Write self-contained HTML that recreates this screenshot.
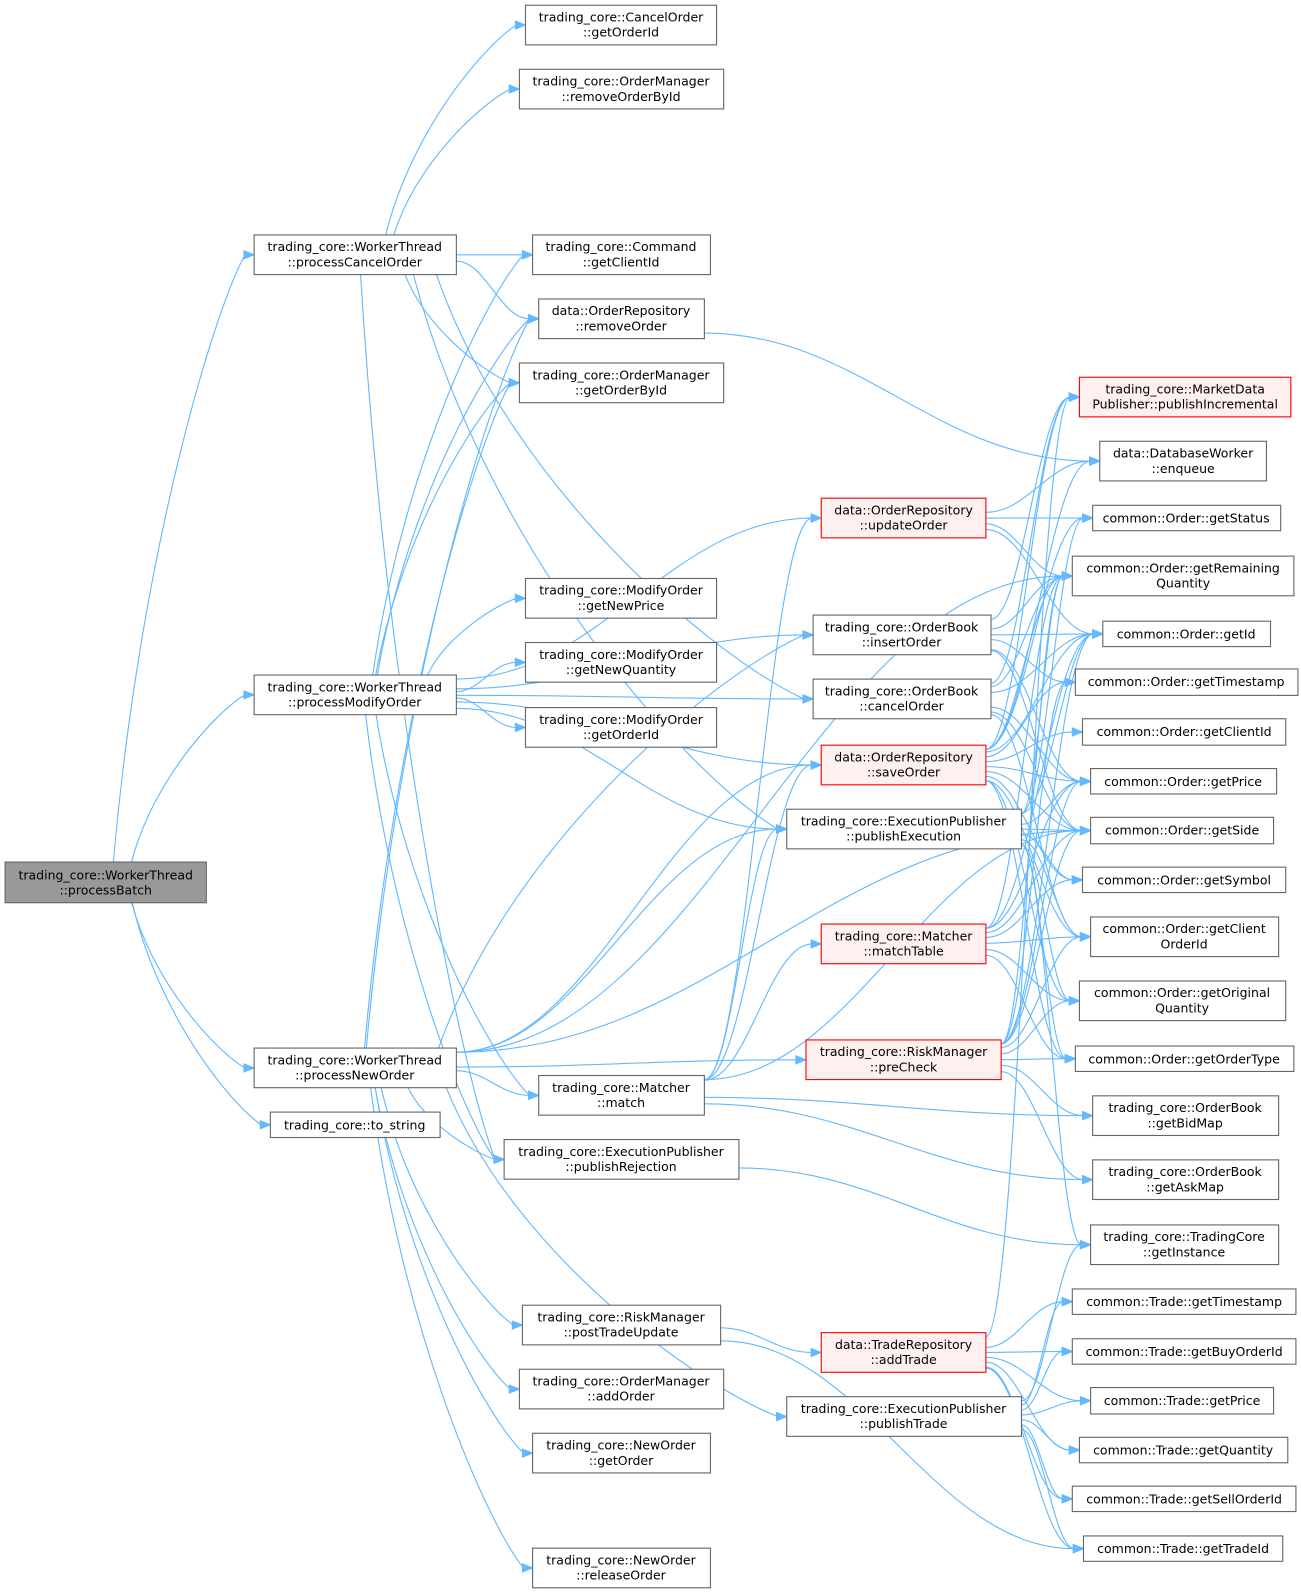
<!DOCTYPE html>
<html><head><meta charset="utf-8"><style>
html,body{margin:0;padding:0;background:#fff;}
svg{display:block;}
text{font-family:"DejaVu Sans","Liberation Sans",sans-serif;font-size:12.3px;fill:#000;text-anchor:middle;}
</style></head><body>
<svg id="g" width="1301" height="1592" viewBox="0 0 1280 1566" xmlns="http://www.w3.org/2000/svg">
<g id="edges" fill="none" stroke="#63b8ff" stroke-width="1.1"></g>
<g id="arrows" fill="#63b8ff" stroke="#63b8ff"></g>
<g id="nodes" stroke-width="1.1">
<rect x="5" y="848" width="198" height="40" fill="#999" stroke="#666"/><text x="104" y="865">trading_core::WorkerThread</text><text x="104" y="880">::processBatch</text>
<rect x="250" y="231" width="199" height="39" fill="#fff" stroke="#666"/><text x="349" y="247">trading_core::WorkerThread</text><text x="349" y="262">::processCancelOrder</text>
<rect x="250" y="664" width="199" height="39" fill="#fff" stroke="#666"/><text x="349" y="680">trading_core::WorkerThread</text><text x="349" y="695">::processModifyOrder</text>
<rect x="250" y="1031" width="199" height="39" fill="#fff" stroke="#666"/><text x="349" y="1047">trading_core::WorkerThread</text><text x="349" y="1062">::processNewOrder</text>
<rect x="266" y="1094" width="167" height="25" fill="#fff" stroke="#666"/><text x="349" y="1111">trading_core::to_string</text>
<rect x="517" y="5" width="188" height="39" fill="#fff" stroke="#666"/><text x="611" y="21">trading_core::CancelOrder</text><text x="611" y="36">::getOrderId</text>
<rect x="511" y="68" width="201" height="39" fill="#fff" stroke="#666"/><text x="611" y="84">trading_core::OrderManager</text><text x="611" y="99">::removeOrderById</text>
<rect x="524" y="231" width="175" height="39" fill="#fff" stroke="#666"/><text x="611" y="247">trading_core::Command</text><text x="611" y="262">::getClientId</text>
<rect x="530" y="294" width="163" height="39" fill="#fff" stroke="#666"/><text x="611" y="310">data::OrderRepository</text><text x="611" y="325">::removeOrder</text>
<rect x="511" y="357" width="201" height="39" fill="#fff" stroke="#666"/><text x="611" y="373">trading_core::OrderManager</text><text x="611" y="388">::getOrderById</text>
<rect x="517" y="569" width="188" height="39" fill="#fff" stroke="#666"/><text x="611" y="585">trading_core::ModifyOrder</text><text x="611" y="600">::getNewPrice</text>
<rect x="517" y="632" width="188" height="39" fill="#fff" stroke="#666"/><text x="611" y="648">trading_core::ModifyOrder</text><text x="611" y="663">::getNewQuantity</text>
<rect x="517" y="696" width="188" height="39" fill="#fff" stroke="#666"/><text x="611" y="712">trading_core::ModifyOrder</text><text x="611" y="727">::getOrderId</text>
<rect x="530" y="1058" width="163" height="39" fill="#fff" stroke="#666"/><text x="611" y="1074">trading_core::Matcher</text><text x="611" y="1089">::match</text>
<rect x="496" y="1121" width="231" height="39" fill="#fff" stroke="#666"/><text x="611" y="1137">trading_core::ExecutionPublisher</text><text x="611" y="1152">::publishRejection</text>
<rect x="514" y="1284" width="195" height="39" fill="#fff" stroke="#666"/><text x="611" y="1300">trading_core::RiskManager</text><text x="611" y="1315">::postTradeUpdate</text>
<rect x="511" y="1347" width="201" height="39" fill="#fff" stroke="#666"/><text x="611" y="1363">trading_core::OrderManager</text><text x="611" y="1378">::addOrder</text>
<rect x="524" y="1410" width="175" height="39" fill="#fff" stroke="#666"/><text x="611" y="1426">trading_core::NewOrder</text><text x="611" y="1441">::getOrder</text>
<rect x="524" y="1523" width="175" height="39" fill="#fff" stroke="#666"/><text x="611" y="1539">trading_core::NewOrder</text><text x="611" y="1554">::releaseOrder</text>
<rect x="808" y="490" width="162" height="39" fill="#fff0f0" stroke="#f00"/><text x="889" y="506">data::OrderRepository</text><text x="889" y="521">::updateOrder</text>
<rect x="800" y="605" width="175" height="39" fill="#fff" stroke="#666"/><text x="887" y="621">trading_core::OrderBook</text><text x="887" y="636">::insertOrder</text>
<rect x="800" y="668" width="175" height="39" fill="#fff" stroke="#666"/><text x="887" y="684">trading_core::OrderBook</text><text x="887" y="699">::cancelOrder</text>
<rect x="808" y="733" width="162" height="39" fill="#fff0f0" stroke="#f00"/><text x="889" y="749">data::OrderRepository</text><text x="889" y="764">::saveOrder</text>
<rect x="774" y="796" width="231" height="39" fill="#fff" stroke="#666"/><text x="889" y="812">trading_core::ExecutionPublisher</text><text x="889" y="827">::publishExecution</text>
<rect x="808" y="909" width="162" height="39" fill="#fff0f0" stroke="#f00"/><text x="889" y="925">trading_core::Matcher</text><text x="889" y="940">::matchTable</text>
<rect x="793" y="1023" width="192" height="39" fill="#fff0f0" stroke="#f00"/><text x="889" y="1039">trading_core::RiskManager</text><text x="889" y="1054">::preCheck</text>
<rect x="808" y="1311" width="162" height="39" fill="#fff0f0" stroke="#f00"/><text x="889" y="1327">data::TradeRepository</text><text x="889" y="1342">::addTrade</text>
<rect x="774" y="1374" width="231" height="39" fill="#fff" stroke="#666"/><text x="889" y="1390">trading_core::ExecutionPublisher</text><text x="889" y="1405">::publishTrade</text>
<rect x="1062" y="371" width="208" height="39" fill="#fff0f0" stroke="#f00"/><text x="1166" y="387">trading_core::MarketData</text><text x="1166" y="402">Publisher::publishIncremental</text>
<rect x="1082" y="434" width="164" height="39" fill="#fff" stroke="#666"/><text x="1164" y="450">data::DatabaseWorker</text><text x="1164" y="465">::enqueue</text>
<rect x="1075" y="497" width="185" height="25" fill="#fff" stroke="#666"/><text x="1167" y="514">common::Order::getStatus</text>
<rect x="1055" y="547" width="218" height="39" fill="#fff" stroke="#666"/><text x="1164" y="563">common::Order::getRemaining</text><text x="1164" y="578">Quantity</text>
<rect x="1085" y="611" width="165" height="25" fill="#fff" stroke="#666"/><text x="1167" y="628">common::Order::getId</text>
<rect x="1058" y="658" width="219" height="26" fill="#fff" stroke="#666"/><text x="1167" y="675">common::Order::getTimestamp</text>
<rect x="1065" y="707" width="200" height="26" fill="#fff" stroke="#666"/><text x="1165" y="724">common::Order::getClientId</text>
<rect x="1073" y="756" width="183" height="25" fill="#fff" stroke="#666"/><text x="1164" y="773">common::Order::getPrice</text>
<rect x="1073" y="804" width="180" height="26" fill="#fff" stroke="#666"/><text x="1163" y="821">common::Order::getSide</text>
<rect x="1065" y="853" width="200" height="25" fill="#fff" stroke="#666"/><text x="1165" y="870">common::Order::getSymbol</text>
<rect x="1073" y="902" width="185" height="39" fill="#fff" stroke="#666"/><text x="1165" y="918">common::Order::getClient</text><text x="1165" y="933">OrderId</text>
<rect x="1062" y="965" width="203" height="39" fill="#fff" stroke="#666"/><text x="1163" y="981">common::Order::getOriginal</text><text x="1163" y="996">Quantity</text>
<rect x="1058" y="1029" width="215" height="25" fill="#fff" stroke="#666"/><text x="1165" y="1046">common::Order::getOrderType</text>
<rect x="1075" y="1078" width="183" height="39" fill="#fff" stroke="#666"/><text x="1166" y="1094">trading_core::OrderBook</text><text x="1166" y="1109">::getBidMap</text>
<rect x="1075" y="1141" width="183" height="39" fill="#fff" stroke="#666"/><text x="1166" y="1157">trading_core::OrderBook</text><text x="1166" y="1172">::getAskMap</text>
<rect x="1073" y="1205" width="185" height="39" fill="#fff" stroke="#666"/><text x="1165" y="1221">trading_core::TradingCore</text><text x="1165" y="1236">::getInstance</text>
<rect x="1055" y="1268" width="220" height="25" fill="#fff" stroke="#666"/><text x="1165" y="1285">common::Trade::getTimestamp</text>
<rect x="1055" y="1317" width="220" height="25" fill="#fff" stroke="#666"/><text x="1165" y="1334">common::Trade::getBuyOrderId</text>
<rect x="1073" y="1365" width="180" height="26" fill="#fff" stroke="#666"/><text x="1163" y="1382">common::Trade::getPrice</text>
<rect x="1062" y="1414" width="205" height="25" fill="#fff" stroke="#666"/><text x="1164" y="1431">common::Trade::getQuantity</text>
<rect x="1055" y="1462" width="220" height="25" fill="#fff" stroke="#666"/><text x="1165" y="1479">common::Trade::getSellOrderId</text>
<rect x="1066" y="1511" width="196" height="25" fill="#fff" stroke="#666"/><text x="1164" y="1528">common::Trade::getTradeId</text>
</g>
</svg>
<script>
var N={
PB:[5,848,203,888],PC:[250,231,449,270],PM:[250,664,449,703],PN:[250,1031,449,1070],TS:[266,1094,433,1119],
CGO:[517,5,705,44],RBI:[511,68,712,107],CGC:[524,231,699,270],RO:[530,294,693,333],GBI:[511,357,712,396],
NP:[517,569,705,608],NQ:[517,632,705,671],MGO:[517,696,705,735],MA:[530,1058,693,1097],PR:[496,1121,727,1160],
PTU:[514,1284,709,1323],AO:[511,1347,712,1386],GO:[524,1410,699,1449],RLO:[524,1523,699,1562],
UO:[808,490,970,529],IO:[800,605,975,644],CO:[800,668,975,707],SO:[808,733,970,772],PE:[774,796,1005,835],
MT:[808,909,970,948],PC2:[793,1023,985,1062],AT:[808,1311,970,1350],PT:[774,1374,1005,1413],
PI:[1062,371,1270,410],EN:[1082,434,1246,473],GS:[1075,497,1260,522],RQ:[1055,547,1273,586],ID:[1085,611,1250,636],
TM:[1058,658,1277,684],CI:[1065,707,1265,733],PRc:[1073,756,1256,781],SD:[1073,804,1253,830],SY:[1065,853,1265,878],
COI:[1073,902,1258,941],OQ:[1062,965,1265,1004],OT:[1058,1029,1273,1054],BM:[1075,1078,1258,1117],AM:[1075,1141,1258,1180],
GI:[1073,1205,1258,1244],TT:[1055,1268,1275,1293],BO:[1055,1317,1275,1342],TP:[1073,1365,1253,1391],TQ:[1062,1414,1267,1439],
SOI:[1055,1462,1275,1487],TI:[1066,1511,1262,1536]};
var E={
PB:['PC','PM','PN','TS'],
PC:['CGO','RBI','CGC','RO','GBI','CO','PE','PR'],
PM:['CGC','RO','GBI','UO','IO','CO','NP','NQ','MGO','SO','PE','MA','PR'],
PN:['RO','GBI','IO','SO','RQ','SD','MA','PR','PTU','AO','GO','RLO','PC2','PT','PE'],
RO:['EN'],UO:['EN','GS','RQ','ID'],
IO:['PI','RQ','TM','PRc','SD','ID'],
CO:['PI','RQ','ID','PRc','SD','COI'],
SO:['PI','EN','GS','RQ','ID','TM','CI','PRc','SD','SY','COI','OQ','OT'],
PE:['RQ','ID','PRc','SD','SY','COI','OQ','GS','GI','OT'],
MT:['SD','SY','COI','OQ','OT','RQ','ID','PRc'],
PC2:['OT','BM','AM','SD','COI','OQ','RQ','PRc','TM','ID'],
MA:['UO','PE','MT','BM','AM','SD','SO'],
PR:['GI'],PTU:['AT','TI'],
AT:['PI','TT','BO','TP','TQ','SOI','TI'],
PT:['GI','TT','BO','TP','TQ','SOI','TI']};
var leftCols={PB:1,PC:1,PM:1,PN:1};
var eg=document.getElementById('edges'),ag=document.getElementById('arrows'),ns='http://www.w3.org/2000/svg';
for(var s in E){E[s].forEach(function(t){
 var a=N[s],b=N[t];
 var acx=(a[0]+a[2])/2,ay=(a[1]+a[3])/2,by=(b[1]+b[3])/2;
 var x2=b[0],y2=by,x1,y1,vert=false;
 var dxr=x2-a[2],dy=by-ay;
 if(leftCols[s] && Math.abs(dy)>dxr*0.9 && Math.abs(dy)>40){
   var f=Math.max(-0.4,Math.min(0.45,dxr/Math.abs(dy)*0.5));
   x1=acx+(a[2]-a[0])*f; y1=dy<0?a[1]:a[3]; vert=true;
 } else {x1=a[2]; y1=Math.max(a[1]+4,Math.min(a[3]-4,ay+dy*0.1));}
 var ex=x2-9,ey=y2,c1x,c1y,c2x,c2y;
 if(vert){c1x=x1+(ex-x1)*0.2;c1y=y1+(ey-y1)*0.5;c2x=ex-(ex-x1)*0.25;c2y=ey-(ey-y1)*0.1;}
 else{c1x=x1+(ex-x1)*0.4;c1y=y1;c2x=ex-(ex-x1)*0.4;c2y=ey;}
 var p=document.createElementNS(ns,'path');
 p.setAttribute('d','M'+x1+','+y1+' C'+c1x+','+c1y+' '+c2x+','+c2y+' '+ex+','+ey);
 eg.appendChild(p);
 var h=document.createElementNS(ns,'path');
 h.setAttribute('d','M'+(x2-10)+','+(y2-4)+' L'+x2+','+y2+' L'+(x2-10)+','+(y2+4)+'Z');
 ag.appendChild(h);
});}
</script>
</body></html>
